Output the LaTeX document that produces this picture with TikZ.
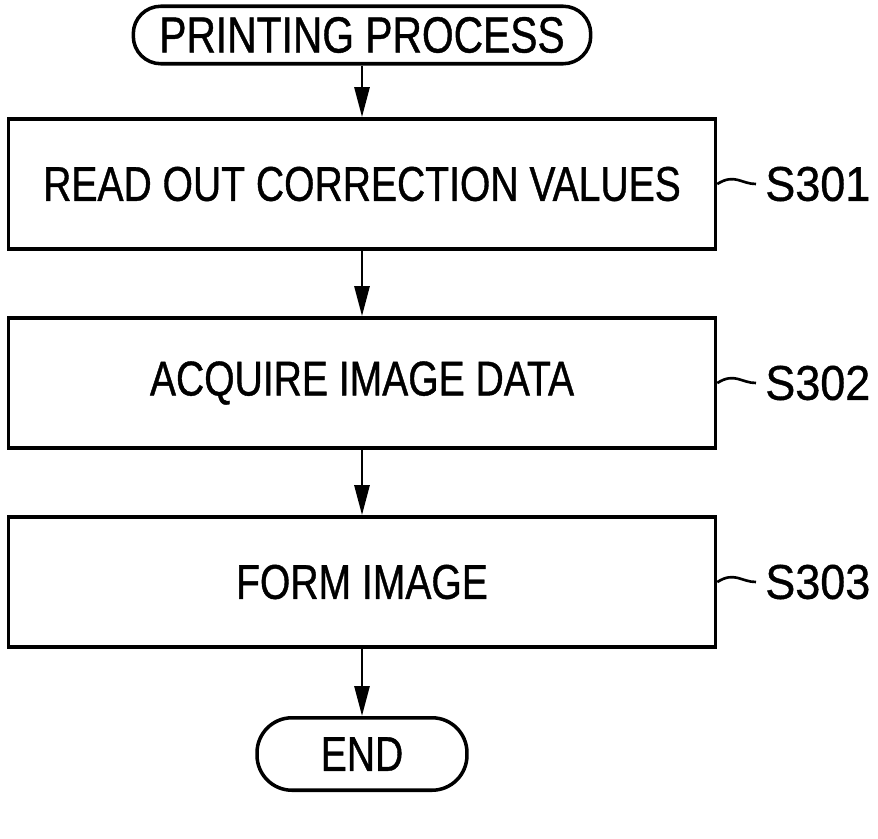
\documentclass[tikz,border=0pt]{standalone}
\usepackage{fontspec}
\setmainfont{Liberation Sans}[FakeStretch=0.8,FakeBold=0.8]
\usetikzlibrary{arrows.meta}

\tikzset{
  stepbox/.style={draw, line width=2.1pt, minimum width=14.14cm, minimum height=2.6cm, inner sep=0pt},
  termbox/.style={draw, line width=2pt, rounded corners=0.55cm, minimum height=1.15cm, inner sep=0pt},
  flow/.style={line width=1.6pt, -{Triangle[length=0.6cm, width=0.3cm]}},
  steplabel/.style={anchor=west, inner sep=0pt, font=\fontsize{27.8}{30}\selectfont\addfontfeature{FakeStretch=0.92}},
  tag/.style={line width=1.5pt},
}

\begin{document}
\begin{tikzpicture}[x=0.02cm, y=-0.02cm, font=\fontsize{27.8}{30}\selectfont]
	\useasboundingbox (0,0) rectangle (878,838);
	% terminals and steps
	\node [termbox, minimum width=9.15cm, font=\fontsize{29}{31}\selectfont] (start) at (362,35) {PRINTING PROCESS};
	\node [stepbox] (s1) at (362,184) {READ OUT CORRECTION VALUES};
	\node [stepbox] (s2) at (362,383) {ACQUIRE IMAGE DATA};
	\node [stepbox] (s3) at (362,582) {FORM IMAGE};
	\node [termbox, minimum width=4.2cm, minimum height=1.45cm, rounded corners=0.7cm] (end) at (362,754) {END};
	% step numbers
	\node [steplabel] (l1) at (765,184) {S301};
	\node [steplabel] (l2) at (765,383) {S302};
	\node [steplabel] (l3) at (765,582) {S303};
	% flow
	\draw [flow] (start) -- (s1);
	\draw [flow] (s1) -- (s2);
	\draw [flow] (s2) -- (s3);
	\draw [flow] (s3) -- (end);
	% tags
	\draw [tag] (s1.east) .. controls +(0.35cm,0.22cm) and +(-0.3cm,0cm) .. ([xshift=-0.18cm]l1.west);
	\draw [tag] (s2.east) .. controls +(0.35cm,0.22cm) and +(-0.3cm,0cm) .. ([xshift=-0.18cm]l2.west);
	\draw [tag] (s3.east) .. controls +(0.35cm,0.22cm) and +(-0.3cm,0cm) .. ([xshift=-0.18cm]l3.west);
\end{tikzpicture}
\end{document}
